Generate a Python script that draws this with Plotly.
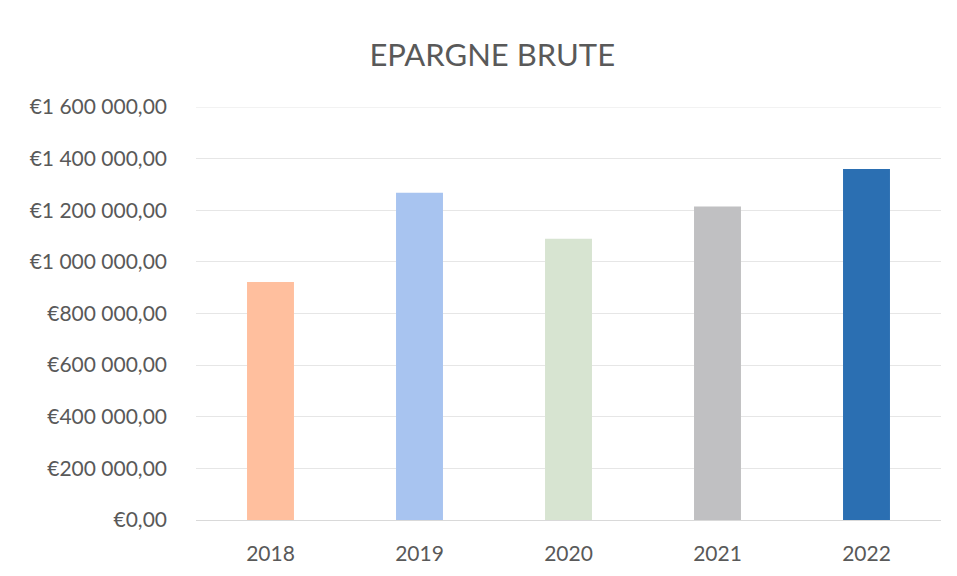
import plotly.graph_objects as go

years = ["2018", "2019", "2020", "2021", "2022"]
epargne = [922000, 1268000, 1090000, 1215000, 1360000]
bar_colors = ["#FFBF9E", "#A8C4F0", "#D7E4D1", "#C0C0C2", "#2B6FB2"]
y_ticks = [0, 200000, 400000, 600000, 800000, 1000000, 1200000, 1400000, 1600000]
y_tick_labels = ["€0,00", "€200 000,00", "€400 000,00", "€600 000,00", "€800 000,00",
                 "€1 000 000,00", "€1 200 000,00", "€1 400 000,00", "€1 600 000,00"]

fig = go.Figure(go.Bar(x=years, y=epargne, marker=dict(color=bar_colors, line=dict(width=0))))

fig.update_layout(
    width=957, height=576,
    margin=dict(l=188, r=24, t=99, b=64),
    paper_bgcolor="white", plot_bgcolor="white",
    bargap=0.685,
    showlegend=False,
    title=dict(text="EPARGNE BRUTE", x=0.506, xanchor="center", y=0.918, yanchor="middle",
               font=dict(family="Lato, Open Sans, sans-serif", size=31, color="#595959")),
    font=dict(family="Lato, Open Sans, sans-serif", size=21, color="#595959"),
)
fig.update_yaxes(range=[0, 1600000], tickvals=y_ticks, ticktext=y_tick_labels,
                 showgrid=True, gridcolor="#E6E6E6", gridwidth=1, zeroline=False,
                 showline=False, ticks="", ticklabelstandoff=28)
fig.update_xaxes(showline=True, linecolor="#D9D9D9", linewidth=1, ticks="",
                 ticklabelstandoff=15, showgrid=False)
# top gridline (plotly drops gridlines on the plot edge)
fig.add_hline(y=y_ticks[-1], line=dict(color="#E6E6E6", width=1), layer="below")

fig.write_html("out.html")
